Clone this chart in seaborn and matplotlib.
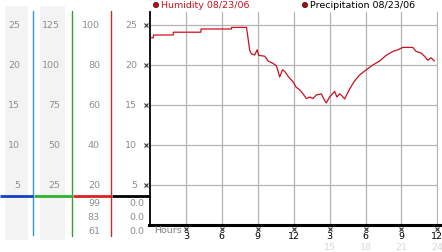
import matplotlib
matplotlib.use("Agg")
import matplotlib.pyplot as plt
import matplotlib.transforms as mtransforms
import seaborn as sns
import pandas as pd

# ---------------- data ----------------
hours = [0.0, 0.28, 0.29, 1.94, 1.95, 4.25, 4.26, 6.8, 6.81, 8.06, 8.33, 8.47, 8.75, 8.94,
         9.08, 9.58, 9.86, 10.28, 10.56, 10.83, 11.06, 11.25, 11.53, 11.94, 12.22, 12.5,
         12.78, 13.06, 13.33, 13.61, 13.89, 14.31, 14.5, 14.72, 15.0, 15.42, 15.61, 15.83,
         16.06, 16.25, 16.67, 17.08, 17.5, 18.06, 18.61, 19.17, 19.72, 20.28, 20.69, 21.11,
         21.94, 22.22, 22.64, 22.92, 23.19, 23.47, 23.75]
humidity = [23.4, 23.4, 23.75, 23.75, 24.1, 24.1, 24.5, 24.5, 24.7, 24.7, 21.8, 21.4, 21.25,
            21.9, 21.2, 21.1, 20.5, 20.2, 19.9, 18.5, 19.4, 19.2, 18.6, 17.9, 17.2, 16.9,
            16.4, 15.8, 16.0, 15.8, 16.25, 16.4, 15.8, 15.25, 16.0, 16.7, 16.0, 16.4, 16.1,
            15.75, 17.0, 18.0, 18.75, 19.4, 20.0, 20.5, 21.2, 21.7, 21.9, 22.2, 22.2, 21.7,
            21.5, 21.1, 20.6, 20.9, 20.5]

y_ticks = [5, 10, 15, 20, 25]
col1_labels = ["5", "10", "15", "20", "25"]
col2_labels = ["25", "50", "75", "100", "125"]
col3_labels = ["20", "40", "60", "80", "100"]
col4_labels = ["5", "10", "15", "20", "25"]
col3_bottom = ["99", "83", "61"]
col4_bottom = ["0.0", "0.0", "0.0"]

x_ticks = [3, 6, 9, 12, 15, 18, 21, 24]
x_labels = ["3", "6", "9", "12", "3", "6", "9", "12"]
x_labels2 = ["15", "18", "21", "24"]
x_ticks2 = [15, 18, 21, 24]

legend_labels = ["Humidity 08/23/06", "Precipitation 08/23/06"]

# ---------------- figure ----------------
W, H = 442, 253
fig = plt.figure(figsize=(W / 100, H / 100), dpi=100)
sns.set_style("white")
plt.rcParams['font.family'] = ['DejaVu Sans']

def fx(px):
    return px / W

def fy(px):  # px from top
    return 1 - px / H

y_top_px, y_bot_px = 13, 226
x_left_px, x_right_px = 150, 438
ymax = (y_bot_px - y_top_px) / 8.0
ax = fig.add_axes([fx(x_left_px), fy(y_bot_px), fx(x_right_px - x_left_px),
                   (y_bot_px - y_top_px) / H])
df = pd.DataFrame({"hour": hours, "humidity": humidity})
sns.lineplot(data=df, x="hour", y="humidity", ax=ax, color="#cc1020", linewidth=0.9)
ax.set_xlim(0, 24.05)
ax.set_ylim(0, ymax)
ax.set_xticks(x_ticks)
ax.set_yticks(y_ticks)
ax.grid(True, color="#b4b4b4", linewidth=0.9)
ax.tick_params(length=0, labelbottom=False, labelleft=False)
ax.set_xlabel("")
ax.set_ylabel("")
for s in ["top", "right"]:
    ax.spines[s].set_visible(False)
ax.spines["left"].set_color("black")
ax.spines["left"].set_linewidth(1.3)
ax.spines["bottom"].set_color("black")
ax.spines["bottom"].set_linewidth(2.2)
ax.spines["bottom"].set_bounds(-0.1, 24.2)

fs = 6.8
# y tick marks (small hatched marks)
tr_y = mtransforms.blended_transform_factory(ax.transAxes, ax.transData)
for t in y_ticks:
    ax.plot([-4.5 / 288], [t], marker="x", ms=2.5, mew=0.8, color="#333333",
            transform=tr_y, clip_on=False)
# x tick marks and labels
tr_x = mtransforms.blended_transform_factory(ax.transData, ax.transAxes)
for t, lab in zip(x_ticks, x_labels):
    ax.plot([t], [-3.5 / 213], marker="x", ms=2.5, mew=0.8, color="#333333",
            transform=tr_x, clip_on=False)
    ax.text(t, -10.5 / 213, lab, transform=tr_x, ha="center", va="center",
            fontsize=fs, color="black")
for t, lab in zip(x_ticks2, x_labels2):
    ax.text(t, -22 / 213, lab, transform=tr_x, ha="center", va="center",
            fontsize=fs, color="#d8d8d8")
ax.text(fx(154), fy(231), "Hours", transform=fig.transFigure, ha="left", va="center",
        fontsize=fs, color="#808080")

# ---------------- left scale panel ----------------
lax = fig.add_axes([0, fy(y_bot_px), fx(149), (y_bot_px - y_top_px) / H])
lax.set_xlim(0, 149)
lax.set_ylim(0, ymax)
lax.axis("off")

def v(px):  # pixel row -> value in the shared scale
    return (y_bot_px - px) / 8.0

band_color = "#f3f3f3"
lax.fill_between([5, 28], v(241), v(7), color=band_color, lw=0, clip_on=False)
lax.fill_between([40, 65], v(241), v(7), color=band_color, lw=0, clip_on=False)

lax.plot([33, 33], [v(236), v(12)], color="#2a9ad0", lw=1.0, clip_on=False)
lax.plot([72, 72], [v(237), v(12)], color="#30a030", lw=1.0, clip_on=False)
lax.plot([111, 111], [v(237), v(12)], color="#c03030", lw=1.0, clip_on=False)

sep = v(197)
lax.plot([0, 33], [sep, sep], color="#1040c8", lw=2.0, clip_on=False, solid_capstyle="butt")
lax.plot([34, 72], [sep, sep], color="#30b030", lw=2.0, clip_on=False, solid_capstyle="butt")
lax.plot([73, 111], [sep, sep], color="#e02020", lw=2.0, clip_on=False, solid_capstyle="butt")
lax.plot([112, 150], [sep, sep], color="black", lw=2.0, clip_on=False, solid_capstyle="butt")

gray = "#8e8e8e"
for t, a, b, c, d in zip(y_ticks, col1_labels, col2_labels, col3_labels, col4_labels):
    lax.text(20, t, a, ha="right", va="center", fontsize=fs, color=gray)
    lax.text(60, t, b, ha="right", va="center", fontsize=fs, color=gray)
    lax.text(100, t, c, ha="right", va="center", fontsize=fs, color=gray)
    lax.text(137, t, d, ha="right", va="center", fontsize=fs, color=gray)
for row_px, c, d in zip([204, 218, 232], col3_bottom, col4_bottom):
    lax.text(100, v(row_px), c, ha="right", va="center", fontsize=fs, color=gray,
             clip_on=False)
    lax.text(144, v(row_px), d, ha="right", va="center", fontsize=fs, color=gray,
             clip_on=False)

# ---------------- legend ----------------
fig.text(fx(161), fy(6), legend_labels[0], ha="left", va="center", fontsize=fs,
         color="#cc1020")
fig.text(fx(310), fy(6), legend_labels[1], ha="left", va="center", fontsize=fs,
         color="black")
lax2 = fig.add_axes([0, 0, 1, 1], facecolor="none")
lax2.set_xlim(0, W)
lax2.set_ylim(H, 0)
lax2.axis("off")
lax2.scatter([156, 305], [6, 6], s=14, color=["#c01020", "#a01010"],
             edgecolors="#400000", linewidths=0.5)

fig.savefig("out.png", dpi=100)
